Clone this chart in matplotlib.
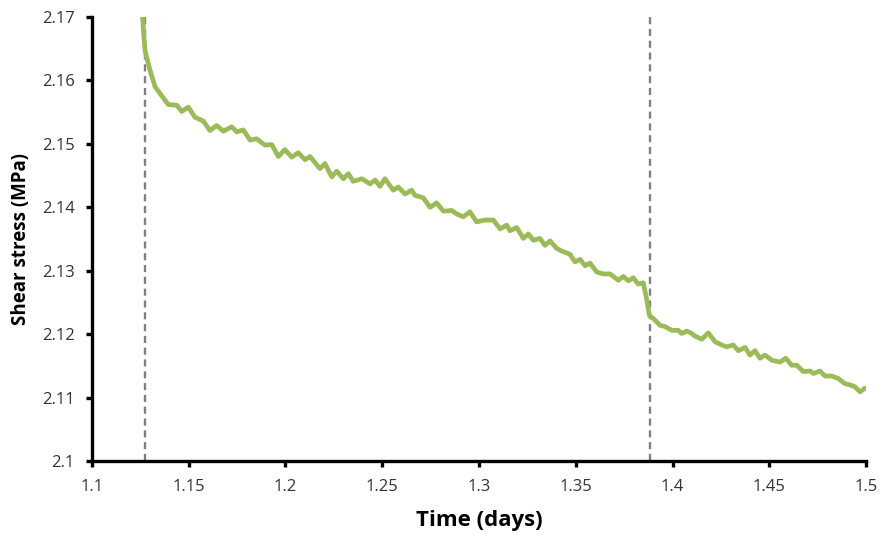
import matplotlib
matplotlib.use("Agg")
import matplotlib.pyplot as plt

time_days = [1.1258, 1.1266, 1.1274, 1.1300, 1.1326, 1.1360, 1.1394, 1.1438, 1.1464, 1.1498,
             1.1532, 1.1575, 1.1610, 1.1644, 1.1679, 1.1722, 1.1748, 1.1782, 1.1817, 1.1851,
             1.1894, 1.1929, 1.1963, 1.1997, 1.2032, 1.2066, 1.2101, 1.2127, 1.2178, 1.2204,
             1.2239, 1.2265, 1.2299, 1.2325, 1.2350, 1.2394, 1.2437, 1.2463, 1.2488, 1.2514,
             1.2557, 1.2583, 1.2618, 1.2652, 1.2669, 1.2712, 1.2747, 1.2781, 1.2816, 1.2859,
             1.2888, 1.2919, 1.2953, 1.2988, 1.3031, 1.3074, 1.3109, 1.3143, 1.3160, 1.3195,
             1.3229, 1.3255, 1.3281, 1.3315, 1.3341, 1.3367, 1.3402, 1.3436, 1.3470, 1.3496,
             1.3522, 1.3548, 1.3574, 1.3608, 1.3642, 1.3677, 1.3720, 1.3746, 1.3772, 1.3797,
             1.3823, 1.3849, 1.3867, 1.3880, 1.3910, 1.3935, 1.3961, 1.3996, 1.4030, 1.4048,
             1.4073, 1.4099, 1.4116, 1.4151, 1.4185, 1.4220, 1.4254, 1.4280, 1.4314, 1.4340,
             1.4375, 1.4400, 1.4426, 1.4452, 1.4478, 1.4513, 1.4556, 1.4585, 1.4616, 1.4642,
             1.4676, 1.4711, 1.4728, 1.4762, 1.4788, 1.4823, 1.4857, 1.4891, 1.4917, 1.4943,
             1.4969, 1.4995]
shear_stress = [2.1718, 2.1679, 2.1647, 2.1616, 2.1590, 2.1576, 2.1562, 2.1561, 2.1551, 2.1558,
                2.1542, 2.1536, 2.1521, 2.1529, 2.1520, 2.1527, 2.1519, 2.1522, 2.1506, 2.1508,
                2.1498, 2.1499, 2.1480, 2.1491, 2.1479, 2.1486, 2.1475, 2.1480, 2.1461, 2.1469,
                2.1448, 2.1457, 2.1445, 2.1453, 2.1441, 2.1445, 2.1437, 2.1443, 2.1433, 2.1445,
                2.1427, 2.1432, 2.1421, 2.1427, 2.1419, 2.1415, 2.1400, 2.1407, 2.1394, 2.1395,
                2.1389, 2.1385, 2.1393, 2.1377, 2.1380, 2.1380, 2.1366, 2.1372, 2.1363, 2.1368,
                2.1351, 2.1358, 2.1348, 2.1351, 2.1340, 2.1347, 2.1335, 2.1330, 2.1326, 2.1314,
                2.1318, 2.1308, 2.1312, 2.1298, 2.1295, 2.1295, 2.1285, 2.1291, 2.1284, 2.1289,
                2.1279, 2.1281, 2.1254, 2.1230, 2.1222, 2.1214, 2.1212, 2.1206, 2.1206, 2.1201,
                2.1205, 2.1201, 2.1197, 2.1192, 2.1202, 2.1188, 2.1183, 2.1180, 2.1183, 2.1174,
                2.1179, 2.1167, 2.1174, 2.1162, 2.1167, 2.1159, 2.1156, 2.1162, 2.1151, 2.1151,
                2.1141, 2.1142, 2.1138, 2.1142, 2.1134, 2.1134, 2.1130, 2.1122, 2.1120, 2.1117,
                2.1109, 2.1115]
event_times = [1.1274, 1.3884]

x_ticks = [1.1, 1.15, 1.2, 1.25, 1.3, 1.35, 1.4, 1.45, 1.5]
x_tick_labels = ["1.1", "1.15", "1.2", "1.25", "1.3", "1.35", "1.4", "1.45", "1.5"]
y_ticks = [2.1, 2.11, 2.12, 2.13, 2.14, 2.15, 2.16, 2.17]
y_tick_labels = ["2.1", "2.11", "2.12", "2.13", "2.14", "2.15", "2.16", "2.17"]

plt.rcParams['font.family'] = ['Open Sans', 'DejaVu Sans']

fig = plt.figure(figsize=(8.81, 5.42), dpi=100)
ax = fig.add_axes([0.1044, 0.1494, 0.8786, 0.8192])

ax.plot(time_days, shear_stress, color='#9BBB59', lw=3.4, solid_joinstyle='round',
        solid_capstyle='round', zorder=3)
for t in event_times:
    ax.axvline(t, color='#808080', lw=1.7, ls=(0, (3, 2)), zorder=2)

ax.set_xlim(1.1, 1.5)
ax.set_ylim(2.1, 2.17)
ax.set_xticks(x_ticks)
ax.set_xticklabels(x_tick_labels)
ax.set_yticks(y_ticks)
ax.set_yticklabels(y_tick_labels)

for s in ['top', 'right']:
    ax.spines[s].set_visible(False)
for s in ['left', 'bottom']:
    ax.spines[s].set_linewidth(2.4)
    ax.spines[s].set_color('black')

ax.tick_params(axis='both', direction='out', length=4, width=2.4, labelsize=12,
               colors='black', labelcolor='#333333')
ax.tick_params(axis='x', pad=9)
ax.tick_params(axis='y', pad=8.5)

ax.set_xlabel('Time (days)', fontsize=16, fontweight='bold', labelpad=11)
ax.set_ylabel('Shear stress (MPa)', fontsize=13.5, fontweight='bold', labelpad=8)

fig.savefig('out.png', dpi=100)
